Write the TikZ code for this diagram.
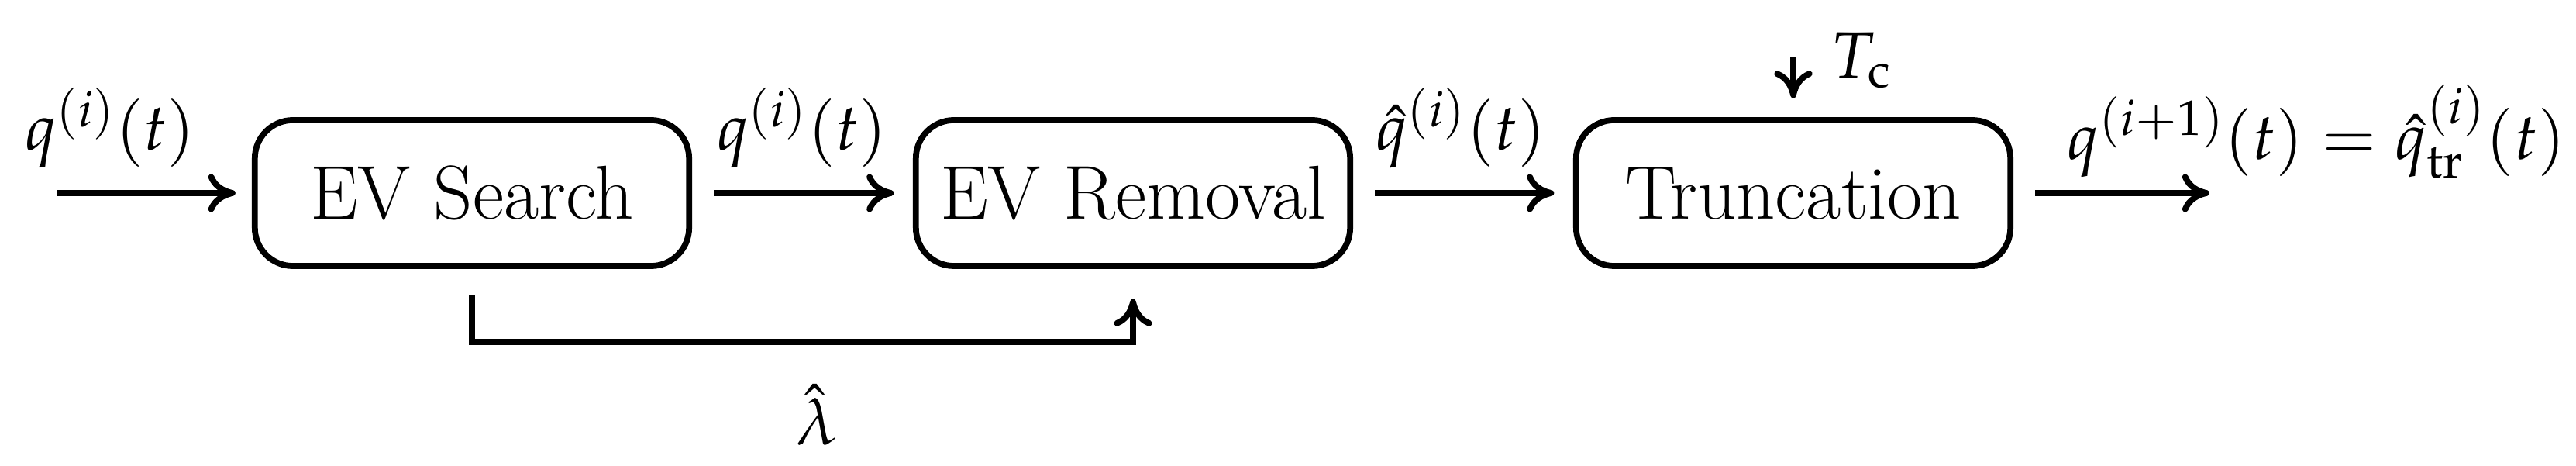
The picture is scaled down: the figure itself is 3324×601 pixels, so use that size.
\documentclass[tikz,border=0pt]{standalone}
\usepackage{mathpazo}
\usetikzlibrary{arrows.meta}
\begin{document}
\begin{tikzpicture}[x=0.01cm,y=-0.01cm,
  box/.style={draw,line width=2.2pt,rounded corners=14pt,minimum width=5.6cm,minimum height=1.88cm},
  arr/.style={-{To[length=10pt,width=14pt]},line width=2.2pt},
  txt/.style={font=\fontsize{28}{32}\selectfont},
  lab/.style={font=\fontsize{24}{28}\selectfont}]
\useasboundingbox (0,0) rectangle (3324,601);
\node[box,txt] (s) at (609,249) {EV Search};
\node[box,txt] (r) at (1462,249) {EV Removal};
\node[box,txt] (t) at (2314,249) {Truncation};
\coordinate (in) at (74,249);
\coordinate (out) at (2851,249);
\coordinate (tc) at (2314,74);
\coordinate (fb) at (0,441);
\draw[arr,shorten >=6pt] (in) -- (s.west);
\draw[arr,shorten <=8pt,shorten >=7pt] (s.east) -- (r.west);
\draw[arr,shorten <=8pt,shorten >=7pt] (r.east) -- (t.west);
\draw[arr,shorten <=8pt] (t.east) -- (out);
\draw[arr,shorten >=7pt] (tc) -- (t.north);
\draw[arr,shorten <=9.7pt,shorten >=11pt] (s.south) -- (s.south|-fb) -| (r.south);
\node[lab] (l1) at (142,165) {$q^{(i)}(t)$};
\node[lab] (l2) at (1035,165) {$q^{(i)}(t)$};
\node[lab] (l3) at (1885,165) {$\hat q^{(i)}(t)$};
\node[lab,anchor=west] (l4) at (2655,170) {$q^{(i+1)}(t)=\hat q^{(i)}_{\mathrm{tr}}(t)$};
\node[lab,anchor=west] (l5) at (2350,78) {$T_{\mathrm c}$};
\node[lab] (lam) at (1054,535) {$\hat\lambda$};
\end{tikzpicture}
\end{document}
